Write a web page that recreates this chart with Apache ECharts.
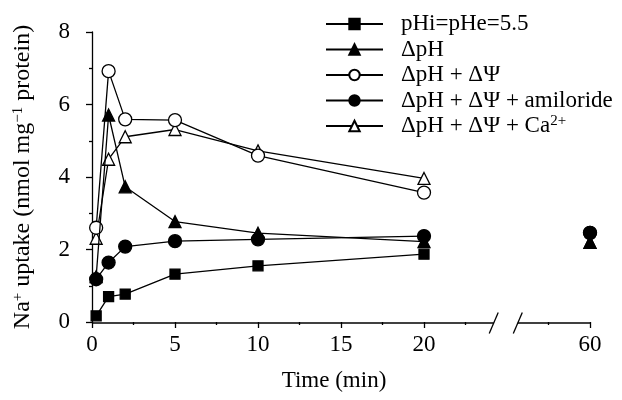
<!DOCTYPE html>
<html><head><meta charset="utf-8">
<script src="https://cdn.jsdelivr.net/npm/echarts@6/dist/echarts.min.js"></script>
<style>html,body{margin:0;padding:0;background:#fff}#c{width:622px;height:400px}</style>
</head><body><div id="c"></div>
<script>
// ---- data ----
const times = [0.25, 1, 2, 5, 10, 20, 60];
const seriesNames = ['pHi=pHe=5.5', 'ΔpH', 'ΔpH + ΔΨ', 'ΔpH + ΔΨ + amiloride', 'ΔpH + ΔΨ + Ca2+'];
const vControl   = [0.17, 0.70, 0.77, 1.32, 1.55, 1.87, null];
const vDpH       = [1.25, 5.71, 3.73, 2.77, 2.45, 2.22, 2.20];
const vDpHPsi    = [2.60, 6.92, 5.59, 5.57, 4.59, 3.57, 2.46];
const vAmiloride = [1.18, 1.64, 2.08, 2.23, 2.28, 2.37, 2.46];
const vCa        = [2.31, 4.49, 5.11, 5.31, 4.72, 3.96, 2.20];
const xTickValues = [0, 5, 10, 15, 20, 60];
const yTickValues = [0, 2, 4, 6, 8];
const breakFrom = 24.2, breakTo = 25.65; // displayed axis gap (broken between 20 and 60)

// ---- helpers ----
const FONT = 'Liberation Serif';
const BLACK = '#000';
const LW = 1.3;
const FS = 23;
function disp(t) { return t <= 20 ? t : t - 30; }   // compress 20..60 gap
function build(vals) {
  const out = [];
  times.forEach((t, i) => {
    if (t > 20 && (out.length === 0 || out[out.length - 1] !== '-')) out.push([disp(25), '-']);
    out.push(vals[i] == null ? [disp(t), '-'] : [disp(t), vals[i]]);
  });
  return out;
}
function mk(name, vals, symbol, size, filled, z) {
  return {
    name, type: 'line', data: build(vals), symbol, symbolSize: size, z,
    connectNulls: false, animation: false,
    lineStyle: { color: BLACK, width: LW },
    itemStyle: { color: filled ? BLACK : '#fff', borderColor: BLACK, borderWidth: LW },
    emphasis: { disabled: true }
  };
}
const legendFmt = {
  'ΔpH + ΔΨ + Ca2+': 'ΔpH + ΔΨ + Ca{sup|2+}'
};

const chart = echarts.init(document.getElementById('c'), null, { renderer: 'canvas' });
const option = {
  animation: false,
  backgroundColor: '#fff',
  textStyle: { fontFamily: FONT, color: BLACK },
  grid: { left: 92, right: 32, top: 32, bottom: 78, containLabel: false, outerBoundsMode: 'none' },
  legend: {
    orient: 'vertical', left: 325, top: 12, padding: 0,
    itemWidth: 57, itemHeight: 13, itemGap: 1.5,
    data: seriesNames,
    selectedMode: false,
    formatter: n => legendFmt[n] || n,
    textStyle: {
      fontFamily: FONT, fontSize: FS, color: BLACK, padding: [0, 0, 0, 13], lineHeight: 24,
      rich: { sup: { fontFamily: FONT, fontSize: 15, verticalAlign: 'top', padding: [0, 0, 8, 0] } }
    }
  },
  xAxis: {
    type: 'value', min: 0, max: 30, interval: 5, offset: 1,
    name: 'Time (min)', nameLocation: 'middle', nameGap: 46,
    nameTextStyle: { fontFamily: FONT, fontSize: FS, color: BLACK, padding: [0, 14, 0, 0] },
    axisLine: { show: false },
    axisTick: { show: true, length: 6, lineStyle: { color: BLACK, width: LW },
      customValues: xTickValues.map(disp) },
    minorTick: { show: true, splitNumber: 2, length: 3, lineStyle: { color: BLACK, width: LW } },
    axisLabel: { fontFamily: FONT, fontSize: FS, color: BLACK, margin: 10,
      customValues: xTickValues.map(disp),
      formatter: v => { const i = xTickValues.map(disp).indexOf(v); return i >= 0 ? String(xTickValues[i]) : ''; } },
    splitLine: { show: false }
  },
  yAxis: {
    type: 'value', min: 0, max: 8, interval: 2, offset: 10,
    name: 'Na{sup|+} uptake (nmol mg{sup|−1} protein)', nameLocation: 'middle', nameGap: 47,
    nameTextStyle: { fontFamily: FONT, fontSize: 24, color: BLACK,
      rich: { sup: { fontFamily: FONT, fontSize: 15, verticalAlign: 'top', padding: [0, 0, 9, 0] } } },
    axisLine: { show: true, lineStyle: { color: BLACK, width: LW } },
    axisTick: { show: true, length: 6, lineStyle: { color: BLACK, width: LW } },
    minorTick: { show: true, splitNumber: 2, length: 3, lineStyle: { color: BLACK, width: LW } },
    axisLabel: { fontFamily: FONT, fontSize: FS, color: BLACK, margin: 12 },
    splitLine: { show: false }
  },
  series: [
    mk(seriesNames[0], vControl, 'rect', 10, true, 2),
    mk(seriesNames[4], vCa, 'triangle', 12, false, 3),
    mk(seriesNames[2], vDpHPsi, 'circle', 13, false, 4),
    mk(seriesNames[1], vDpH, 'triangle', 12, true, 5),
    mk(seriesNames[3], vAmiloride, 'circle', 13, true, 6)
  ]
};
chart.setOption(option);

// broken x-axis line, placed through the axis' own scale
const p = (x) => chart.convertToPixel({ xAxisIndex: 0, yAxisIndex: 0 }, [x, 0]);
const y0 = p(0)[1] + 1;
const xa = p(0)[0], xb = p(breakFrom)[0], xc = p(breakTo)[0], xd = p(30)[0];
const ls = { stroke: BLACK, lineWidth: LW };
chart.setOption({
  graphic: [
    { type: 'line', shape: { x1: xa, y1: y0, x2: xb, y2: y0 }, style: ls, silent: true },
    { type: 'line', shape: { x1: xc, y1: y0, x2: xd, y2: y0 }, style: ls, silent: true },
    { type: 'line', shape: { x1: xb - 4.5, y1: y0 + 10.5, x2: xb + 4.5, y2: y0 - 10.5 }, style: ls, silent: true },
    { type: 'line', shape: { x1: xc - 4.5, y1: y0 + 10.5, x2: xc + 4.5, y2: y0 - 10.5 }, style: ls, silent: true }
  ]
});
</script>
</body></html>
